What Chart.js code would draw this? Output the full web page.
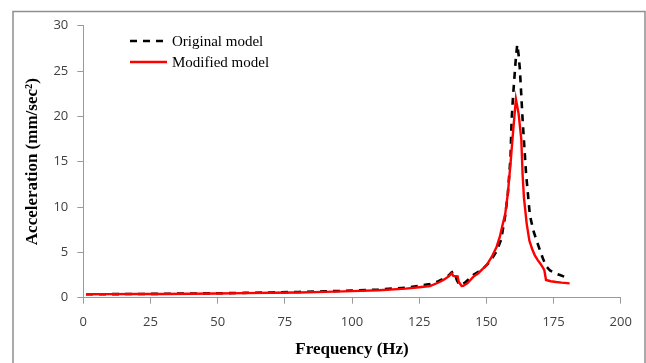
<!DOCTYPE html>
<html>
<head>
<meta charset="utf-8">
<script src="https://cdn.jsdelivr.net/npm/chart.js@4.4.0/dist/chart.umd.min.js"></script>
<style>
html,body{margin:0;padding:0;background:#fff;}
canvas{display:block;}
</style>
</head>
<body>
<canvas id="c" width="646" height="363"></canvas>
<script>
// ---- Data ----
const seriesLabels = ["Original model", "Modified model"];
const xTicks = [0, 25, 50, 75, 100, 125, 150, 175, 200];
const yTicks = [0, 5, 10, 15, 20, 25, 30];

const freqOriginal = [1, 10, 20, 30, 40, 50, 60, 70, 80, 90, 100, 110, 120, 125, 129, 132, 134, 136, 137.1, 137.7, 138.4, 139, 140, 141, 142, 143.5, 145.1, 147, 148.9, 151.4, 153.8, 155.5, 157, 158, 159, 159.4, 160, 161, 161.5, 162, 162.5, 163.5, 164.8, 166.2, 167.5, 168.7, 170, 171.2, 172.5, 173.7, 175.5, 177.4, 180.5];
const accelOriginal = [0.38, 0.39, 0.41, 0.43, 0.46, 0.49, 0.53, 0.58, 0.63, 0.7, 0.78, 0.9, 1.1, 1.3, 1.5, 1.8, 2.1, 2.45, 2.8, 2.87, 2.5, 1.95, 1.4, 1.5, 1.65, 2.05, 2.5, 2.85, 3.24, 4.0, 5.1, 6.4, 9.0, 11.5, 15.5, 19.6, 22.5, 26.5, 27.9, 26.8, 25.1, 19.6, 13.6, 9.1, 7.4, 6.3, 5.2, 4.2, 3.4, 3.0, 2.7, 2.5, 2.15];

const freqModified = [1, 10, 20, 30, 40, 50, 60, 70, 80, 90, 100, 110, 120, 125, 129, 132, 134, 136, 137.1, 137.7, 139.3, 139.7, 140.8, 141.4, 143, 145.1, 147, 150.1, 152, 153.8, 155, 156, 157, 158, 159, 160, 161, 162, 163, 163.5, 164, 165, 166, 167, 168, 169, 170, 171, 171.6, 172.2, 174, 176, 178, 181];
const accelModified = [0.38, 0.39, 0.4, 0.41, 0.44, 0.47, 0.5, 0.54, 0.58, 0.64, 0.72, 0.82, 1.0, 1.15, 1.29, 1.65, 1.95, 2.35, 2.7, 2.4, 2.35, 1.77, 1.29, 1.3, 1.6, 2.3, 2.7, 3.6, 4.5, 5.6, 6.7, 8.0, 9.2, 11.5, 14.8, 18.5, 21.9, 20.3, 17.5, 13.5, 11.0, 8.2, 6.3, 5.4, 4.7, 4.2, 3.8, 3.35, 3.0, 1.95, 1.82, 1.73, 1.66, 1.58];

const toPoints = (xs, ys) => xs.map((x, i) => ({x: x, y: ys[i]}));

const AXIS_GRAY = '#9a9a9a';
const TICK_FONT = {family: '"Open Sans", "Liberation Sans", sans-serif', size: 13};
const TITLE_FONT = {family: '"Liberation Serif", "Times New Roman", serif', size: 17, weight: 'bold'};

const decorPlugin = {
  id: 'decor',
  beforeDraw(chart) {
    const ctx = chart.ctx;
    ctx.save();
    ctx.strokeStyle = '#8f8f8f';
    ctx.lineWidth = 1.5;
    ctx.strokeRect(13, 11.5, 632, 400);
    ctx.restore();
  },
  afterDraw(chart) {
    const ctx = chart.ctx;
    ctx.save();
    const rows = [41, 62];
    chart.data.datasets.forEach((ds, i) => {
      const y = rows[i];
      ctx.beginPath();
      ctx.strokeStyle = ds.borderColor;
      ctx.lineWidth = ds.borderWidth;
      ctx.setLineDash(ds.borderDash || []);
      ctx.moveTo(130, y);
      ctx.lineTo(167, y);
      ctx.stroke();
      ctx.setLineDash([]);
      ctx.fillStyle = '#000';
      ctx.font = '15px "Liberation Serif", "Times New Roman", serif';
      ctx.textBaseline = 'middle';
      ctx.textAlign = 'left';
      ctx.fillText(ds.label, 172, y + 1);
    });
    ctx.restore();
  }
};

new Chart(document.getElementById('c'), {
  type: 'line',
  data: {
    datasets: [
      {
        label: seriesLabels[0],
        data: toPoints(freqOriginal, accelOriginal),
        borderColor: '#000000',
        borderWidth: 2.6,
        borderDash: [7, 6],
        pointRadius: 0,
        tension: 0,
        fill: false,
        order: 2
      },
      {
        label: seriesLabels[1],
        data: toPoints(freqModified, accelModified),
        borderColor: '#ff0000',
        borderWidth: 2.4,
        pointRadius: 0,
        tension: 0,
        fill: false,
        order: 1
      }
    ]
  },
  options: {
    responsive: false,
    animation: false,
    layout: {padding: {left: 0, right: 25.3, top: 25.7, bottom: 0}},
    plugins: {legend: {display: false}, tooltip: {enabled: false}},
    scales: {
      x: {
        type: 'linear',
        min: 0, max: 200,
        afterBuildTicks(scale) { scale.ticks = xTicks.map(v => ({value: v})); },
        afterFit(scale) { scale.height = 65.3; },
        ticks: {font: TICK_FONT, color: '#404040', padding: 11, maxRotation: 0},
        grid: {drawOnChartArea: false, drawTicks: true, tickLength: 6, color: AXIS_GRAY, lineWidth: 1},
        border: {color: AXIS_GRAY, width: 1},
        title: {display: true, text: 'Frequency (Hz)', font: TITLE_FONT, color: '#000', padding: {top: 0, bottom: 3}}
      },
      y: {
        type: 'linear',
        min: 0, max: 30,
        afterBuildTicks(scale) { scale.ticks = yTicks.map(v => ({value: v})); },
        afterFit(scale) { scale.width = 83.3; },
        ticks: {font: TICK_FONT, color: '#404040', padding: 9},
        grid: {drawOnChartArea: false, drawTicks: true, tickLength: 6, color: AXIS_GRAY, lineWidth: 1},
        border: {color: AXIS_GRAY, width: 1},
        title: {display: true, text: 'Acceleration (mm/sec²)', font: TITLE_FONT, color: '#000', padding: {top: 22, bottom: 0}}
      }
    }
  },
  plugins: [decorPlugin]
});
</script>
</body>
</html>
